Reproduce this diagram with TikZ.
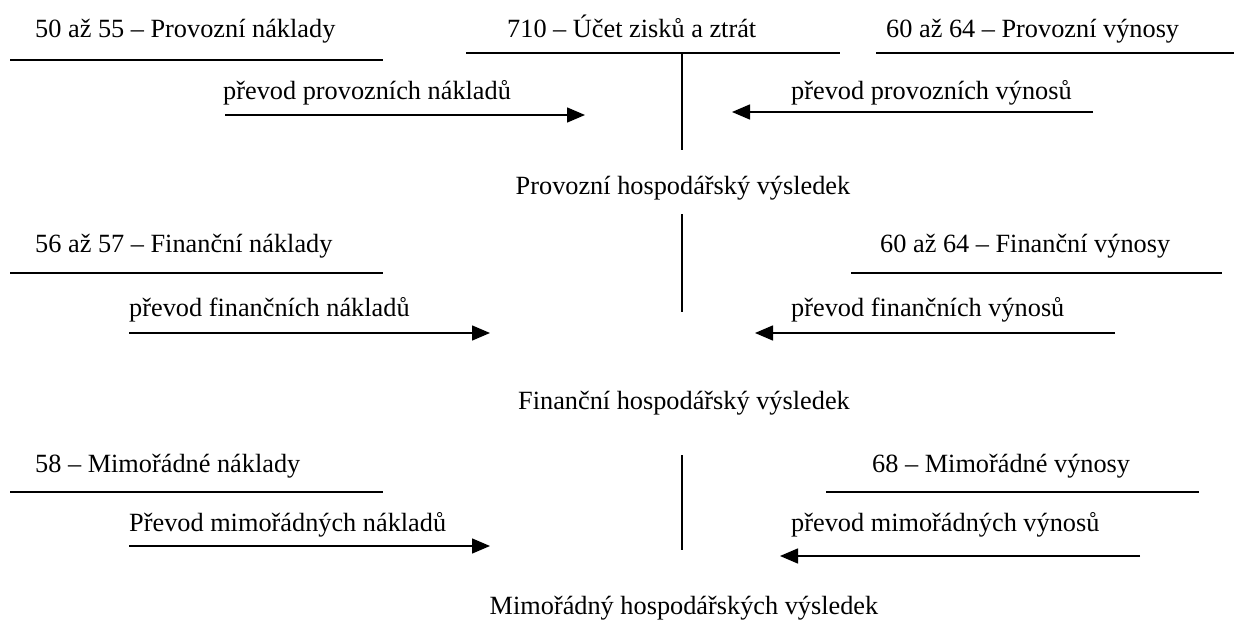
\documentclass[tikz,border=0pt]{standalone}
\usepackage{fontspec}
\setmainfont{Liberation Serif}
\usetikzlibrary{arrows.meta}
\begin{document}
\begin{tikzpicture}[x=1pt,y=-1pt,
  lbl/.style={inner sep=0pt,anchor=west,font=\fontsize{26.3}{30}\selectfont,text height=0.7em,text depth=0.22em},
  rule/.style={line width=1.5pt},
  flow/.style={line width=1.5pt,-{Triangle[length=18pt,width=15pt]}}]
\useasboundingbox (0,0) rectangle (1234,623);
% headings
\node[lbl] (pn) at (35,35) {50 až 55 – Provozní náklady};
\node[lbl] (uz) at (507,35) {710 – Účet zisků a ztrát};
\node[lbl] (pv) at (886,35) {60 až 64 – Provozní výnosy};
\node[lbl] (fn) at (35,250) {56 až 57 – Finanční náklady};
\node[lbl] (fv) at (880,250) {60 až 64 – Finanční výnosy};
\node[lbl] (mn) at (35,470) {58 – Mimořádné náklady};
\node[lbl] (mv) at (872,470) {68 – Mimořádné výnosy};
% transfer labels
\node[lbl] (tpn) at (223,97) {převod provozních nákladů};
\node[lbl] (tpv) at (791,97) {převod provozních výnosů};
\node[lbl] (tfn) at (129,314) {převod finančních nákladů};
\node[lbl] (tfv) at (791,314) {převod finančních výnosů};
\node[lbl] (tmn) at (129,529) {Převod mimořádných nákladů};
\node[lbl] (tmv) at (791,529) {převod mimořádných výnosů};
% results
\node[lbl,anchor=center] (rp) at (683,192) {Provozní hospodářský výsledek};
\node[lbl,anchor=center] (rf) at (684,407) {Finanční hospodářský výsledek};
\node[lbl,anchor=center] (rm) at (684,612) {Mimořádný hospodářských výsledek};
% rules
\coordinate (a1) at (10,60);  \coordinate (a2) at (383,60);
\coordinate (b1) at (466,53); \coordinate (b2) at (840,53);
\coordinate (c1) at (876,53); \coordinate (c2) at (1234,53);
\coordinate (d1) at (10,273); \coordinate (d2) at (383,273);
\coordinate (e1) at (851,273); \coordinate (e2) at (1222,273);
\coordinate (f1) at (10,492); \coordinate (f2) at (383,492);
\coordinate (g1) at (826,492); \coordinate (g2) at (1199,492);
\draw[rule] (a1) -- (a2);
\draw[rule] (b1) -- (b2);
\draw[rule] (c1) -- (c2);
\draw[rule] (d1) -- (d2);
\draw[rule] (e1) -- (e2);
\draw[rule] (f1) -- (f2);
\draw[rule] (g1) -- (g2);
% vertical T lines
\coordinate (v1a) at (682,53);  \coordinate (v1b) at (682,150);
\coordinate (v2a) at (682,214); \coordinate (v2b) at (682,312);
\coordinate (v3a) at (682,455); \coordinate (v3b) at (682,550);
\draw[rule] (v1a) -- (v1b);
\draw[rule] (v2a) -- (v2b);
\draw[rule] (v3a) -- (v3b);
% arrows
\coordinate (p1s) at (225,115); \coordinate (p1e) at (585,115);
\coordinate (p2s) at (1093,112); \coordinate (p2e) at (732,112);
\coordinate (q1s) at (129,333); \coordinate (q1e) at (490,333);
\coordinate (q2s) at (1115,333); \coordinate (q2e) at (755,333);
\coordinate (r1s) at (129,546); \coordinate (r1e) at (490,546);
\coordinate (r2s) at (1140,556); \coordinate (r2e) at (780,556);
\draw[flow] (p1s) -- (p1e);
\draw[flow] (p2s) -- (p2e);
\draw[flow] (q1s) -- (q1e);
\draw[flow] (q2s) -- (q2e);
\draw[flow] (r1s) -- (r1e);
\draw[flow] (r2s) -- (r2e);
\end{tikzpicture}
\end{document}
